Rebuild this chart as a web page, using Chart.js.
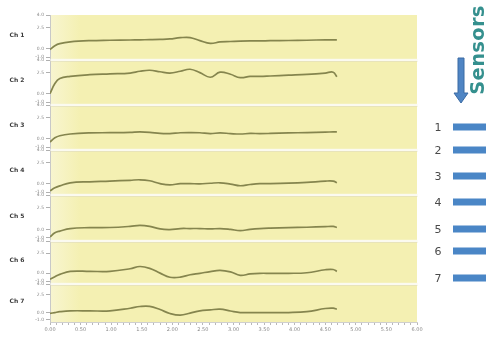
<!DOCTYPE html>
<html>
<head>
<meta charset="utf-8">
<script src="https://cdn.jsdelivr.net/npm/chart.js@4/dist/chart.umd.min.js"></script>
<style>
  html, body { margin: 0; padding: 0; background: #ffffff; }
  #wrap { position: relative; width: 486px; height: 337px; overflow: hidden; background: #ffffff; }
  #chart { position: absolute; left: 0; top: 0; }
  #sensorsTitle {
    position: absolute; left: 477px; top: 50px;
    transform: translate(-50%, -50%) rotate(-90deg);
    font-family: "DejaVu Sans", sans-serif; font-weight: bold; font-size: 19.5px;
    color: #35908e; white-space: nowrap; letter-spacing: 0.3px;
  }
  #arrow { position: absolute; left: 453px; top: 57px; }
  .sensor-num {
    position: absolute; left: 433px; width: 10px; text-align: center;
    font-family: "DejaVu Sans", sans-serif; font-size: 11px; color: #4a4a4a;
    transform: translateY(-50%);
  }
  .sensor-bar {
    position: absolute; left: 453px; width: 40px; height: 7px;
    background: #4a86c6; transform: translateY(-50%);
  }
</style>
</head>
<body>
<div id="wrap">
  <canvas id="chart" width="486" height="337"></canvas>
  <div id="sensorsTitle">Sensors</div>
  <svg id="arrow" width="16" height="48" viewBox="0 0 16 48">
    <polygon points="5,1 11,1 11,36 15,36 8,46 1,36 5,36" fill="#4f85c4" stroke="#3a6aa3" stroke-width="1"/>
  </svg>
</div>
<script>
// Sample times (minutes) shared by every channel trace
const times = [0, 0.08, 0.16, 0.33, 0.65, 0.98, 1.31, 1.47, 1.63, 1.80, 1.96, 2.13, 2.29,
               2.45, 2.62, 2.78, 2.95, 3.11, 3.27, 3.43, 3.6, 3.9, 4.2, 4.5, 4.63, 4.69];

// Channel readings at each sample time
const ch1 = [-0.1, 0.35, 0.59, 0.8, 0.95, 1.0, 1.03, 1.05, 1.07, 1.1, 1.15, 1.3, 1.32,
             0.95, 0.62, 0.8, 0.85, 0.9, 0.92, 0.92, 0.95, 0.97, 1.0, 1.05, 1.05, 1.05];
const ch2 = [0.0, 1.2, 1.8, 2.05, 2.25, 2.35, 2.45, 2.66, 2.78, 2.6, 2.45, 2.66, 2.9,
             2.5, 1.95, 2.55, 2.3, 1.9, 2.05, 2.05, 2.1, 2.2, 2.3, 2.45, 2.55, 2.0];
const ch3 = [-0.4, 0.1, 0.35, 0.55, 0.68, 0.71, 0.75, 0.8, 0.75, 0.62, 0.6, 0.7, 0.72,
             0.7, 0.6, 0.68, 0.6, 0.55, 0.62, 0.6, 0.62, 0.68, 0.72, 0.78, 0.8, 0.8];
const ch4 = [-0.85, -0.5, -0.27, 0.1, 0.22, 0.3, 0.4, 0.46, 0.34, 0.0, -0.15, 0.0, 0.0,
             -0.02, 0.05, 0.1, -0.05, -0.25, -0.1, 0.0, 0.0, 0.05, 0.15, 0.3, 0.3, 0.1];
const ch5 = [-0.88, -0.4, -0.2, 0.1, 0.2, 0.22, 0.35, 0.46, 0.35, 0.05, -0.02, 0.1, 0.1,
             0.1, 0.05, 0.1, 0.0, -0.15, 0.0, 0.1, 0.15, 0.2, 0.25, 0.32, 0.34, 0.22];
const ch6 = [-0.76, -0.45, -0.15, 0.22, 0.22, 0.22, 0.55, 0.83, 0.6, 0.0, -0.51, -0.5, -0.2,
             -0.02, 0.2, 0.34, 0.15, -0.27, -0.1, -0.02, -0.02, -0.02, 0.05, 0.42, 0.45, 0.22];
const ch7 = [-0.15, -0.02, 0.1, 0.22, 0.22, 0.22, 0.59, 0.83, 0.85, 0.4, -0.15, -0.39, -0.1,
             0.22, 0.35, 0.46, 0.2, -0.02, -0.02, -0.02, -0.02, -0.02, 0.1, 0.55, 0.6, 0.46];

const channelNames = ['Ch 1', 'Ch 2', 'Ch 3', 'Ch 4', 'Ch 5', 'Ch 6', 'Ch 7'];
const channelValues = [ch1, ch2, ch3, ch4, ch5, ch6, ch7];

// Axis tick values
const yTickValues = [-1, 0, 2.5, 4];
const xLabelStep = 0.5;
const xMinorStep = 0.1;

// Sensor legend entries on the right
const sensorIds = [1, 2, 3, 4, 5, 6, 7];
const sensorRowTops = [127, 150, 176, 202, 229, 251, 278];

// Relative heights of the stacked channel panels
const panelWeights = [45, 45, 45, 45, 46, 43, 38];

const wrap = document.getElementById('wrap');
sensorIds.forEach((id, i) => {
  const num = document.createElement('div');
  num.className = 'sensor-num';
  num.style.top = sensorRowTops[i] + 'px';
  num.textContent = String(id);
  wrap.appendChild(num);
  const bar = document.createElement('div');
  bar.className = 'sensor-bar';
  bar.style.top = sensorRowTops[i] + 'px';
  wrap.appendChild(bar);
});

const PANEL_FILL = '#f4f0b2';
const TRACE_COLOR = '#85854e';

// Yellow panels, separators and channel names
const panelPlugin = {
  id: 'panels',
  beforeDraw(chart) {
    const { ctx, chartArea } = chart;
    ctx.save();
    channelNames.forEach((_, i) => {
      const s = chart.scales['y' + i];
      const g = ctx.createLinearGradient(chartArea.left, 0, chartArea.left + 30, 0);
      g.addColorStop(0, '#f8f5d0');
      g.addColorStop(1, PANEL_FILL);
      ctx.fillStyle = g;
      ctx.fillRect(chartArea.left, s.top, chartArea.right - chartArea.left, s.bottom - s.top);
    });
    ctx.restore();
  },
  afterDatasetsDraw(chart) {
    const { ctx, chartArea } = chart;
    ctx.save();
    channelNames.forEach((_, i) => {
      const s = chart.scales['y' + i];
      if (s.bottom >= chartArea.bottom - 1) return;
      ctx.fillStyle = '#fbfaf0';
      ctx.fillRect(chartArea.left + 0.5, s.bottom - 1.2, chartArea.right - chartArea.left, 2.6);
      ctx.fillStyle = 'rgba(200,196,150,0.5)';
      ctx.fillRect(chartArea.left + 0.5, s.bottom + 1.4, chartArea.right - chartArea.left, 0.6);
    });
    ctx.restore();
  },
  afterDraw(chart) {
    const { ctx } = chart;
    ctx.save();
    ctx.font = 'bold 6px "DejaVu Sans", sans-serif';
    ctx.fillStyle = '#3a3a3a';
    ctx.textAlign = 'center';
    ctx.textBaseline = 'middle';
    channelNames.forEach((name, i) => {
      const s = chart.scales['y' + i];
      ctx.fillText(name, 17, (s.top + s.bottom) / 2 - 2);
    });
    ctx.restore();
  }
};

const scales = {
  x: {
    type: 'linear',
    position: 'bottom',
    min: 0,
    max: 6,
    afterBuildTicks(scale) {
      const ticks = [];
      const n = Math.round((scale.max - scale.min) / xMinorStep);
      for (let k = 0; k <= n; k++) ticks.push({ value: +(scale.min + k * xMinorStep).toFixed(2) });
      scale.ticks = ticks;
    },
    afterFit(scale) { scale.height = 15; },
    ticks: {
      autoSkip: false,
      maxRotation: 0,
      padding: 2,
      color: '#888888',
      font: { family: '"DejaVu Sans", sans-serif', size: 5 },
      callback(v) {
        const r = v / xLabelStep;
        return Math.abs(r - Math.round(r)) < 1e-6 ? v.toFixed(2) : '';
      }
    },
    grid: { drawOnChartArea: false, tickLength: 3, color: '#b8b8b8' },
    border: { color: '#cfcfcf' }
  }
};

// Left-side stacked axes are laid out last-defined on top, so add them from Ch 7 up to Ch 1
for (let i = channelNames.length - 1; i >= 0; i--) {
  scales['y' + i] = {
    type: 'linear',
    position: 'left',
    stack: 'channels',
    stackWeight: panelWeights[i],
    min: -1.35,
    max: 4,
    afterBuildTicks(scale) { scale.ticks = yTickValues.map(v => ({ value: v })); },
    afterFit(scale) { scale.width = 42; },
    ticks: {
      autoSkip: false,
      padding: 2,
      color: '#888888',
      font: { family: '"DejaVu Sans", sans-serif', size: 4.5 },
      callback: v => v.toFixed(1)
    },
    grid: { drawOnChartArea: false, tickLength: 4, color: '#b0b0b0' },
    border: { color: '#c8c8c8' }
  };
}

const datasets = channelValues.map((vals, i) => ({
  label: channelNames[i],
  yAxisID: 'y' + i,
  data: times.map((t, j) => ({ x: t, y: vals[j] })),
  borderColor: TRACE_COLOR,
  borderWidth: 1.7,
  pointRadius: 0,
  tension: 0.4,
  fill: false
}));

new Chart(document.getElementById('chart'), {
  type: 'line',
  data: { datasets },
  options: {
    responsive: false,
    animation: false,
    layout: { padding: { left: 8, right: 69, top: 15, bottom: 0 } },
    plugins: { legend: { display: false }, tooltip: { enabled: false } },
    scales
  },
  plugins: [panelPlugin]
});
</script>
</body>
</html>
